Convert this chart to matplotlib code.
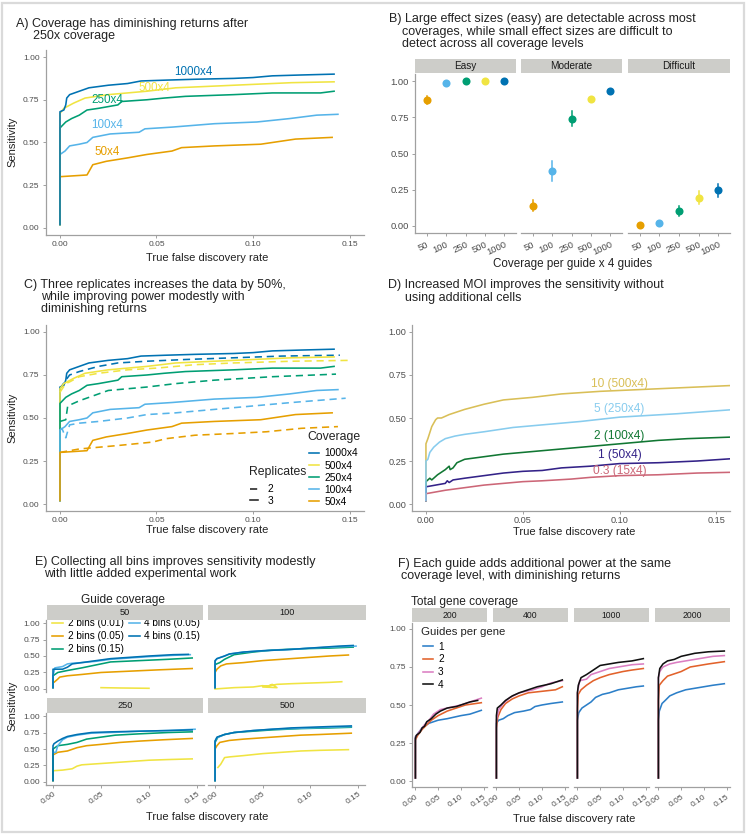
import matplotlib
matplotlib.use("Agg")
import matplotlib.pyplot as plt
from matplotlib.lines import Line2D
from matplotlib.patches import Rectangle

plt.rcParams['font.family'] = ['Liberation Sans', 'DejaVu Sans']

# ---------------- DATA ----------------
# Panel A / C (3 replicates, solid)
COV_LABELS = ['1000x4', '500x4', '250x4', '100x4', '50x4']
COV_COLORS = ['#0072B2', '#F0E442', '#009E73', '#56B4E9', '#E69F00']

A1000_x = [0, 0, 0.002, 0.003, 0.0035, 0.005, 0.01, 0.015, 0.025, 0.035, 0.042, 0.055, 0.07, 0.09, 0.10, 0.11, 0.125, 0.142]
A1000_y = [0.02, 0.68, 0.69, 0.72, 0.76, 0.78, 0.80, 0.82, 0.835, 0.845, 0.86, 0.865, 0.87, 0.875, 0.88, 0.89, 0.895, 0.90]
A500_x = [0, 0, 0.002, 0.007, 0.013, 0.025, 0.035, 0.045, 0.06, 0.08, 0.10, 0.12, 0.142]
A500_y = [0.02, 0.67, 0.70, 0.73, 0.76, 0.78, 0.79, 0.80, 0.82, 0.83, 0.84, 0.85, 0.855]
A250_x = [0, 0, 0.003, 0.006, 0.010, 0.014, 0.02, 0.03, 0.032, 0.045, 0.054, 0.065, 0.09, 0.11, 0.135, 0.142]
A250_y = [0.02, 0.585, 0.62, 0.64, 0.66, 0.69, 0.70, 0.72, 0.74, 0.75, 0.76, 0.77, 0.78, 0.79, 0.79, 0.80]
A100_x = [0, 0, 0.0026, 0.005, 0.010, 0.014, 0.017, 0.026, 0.041, 0.044, 0.058, 0.08, 0.102, 0.119, 0.133, 0.144]
A100_y = [0.02, 0.43, 0.45, 0.48, 0.49, 0.50, 0.53, 0.55, 0.56, 0.58, 0.59, 0.61, 0.62, 0.64, 0.66, 0.665]
A50_x = [0, 0, 0.014, 0.015, 0.016, 0.017, 0.024, 0.035, 0.045, 0.058, 0.063, 0.08, 0.104, 0.122, 0.141]
A50_y = [0.02, 0.30, 0.31, 0.33, 0.35, 0.37, 0.39, 0.41, 0.43, 0.45, 0.47, 0.48, 0.49, 0.52, 0.53]

# Panel C (2 replicates, dashed)
C1000_x = [0, 0.003, 0.005, 0.01, 0.02, 0.03, 0.045, 0.065, 0.09, 0.115, 0.145]
C1000_y = [0.67, 0.72, 0.75, 0.77, 0.80, 0.82, 0.83, 0.84, 0.85, 0.86, 0.865]
C500_x = [0, 0.003, 0.005, 0.01, 0.02, 0.035, 0.05, 0.07, 0.09, 0.12, 0.15]
C500_y = [0.65, 0.70, 0.71, 0.74, 0.76, 0.78, 0.79, 0.81, 0.82, 0.83, 0.835]
C250_x = [0, 0.003, 0.004, 0.01, 0.015, 0.025, 0.045, 0.06, 0.08, 0.11, 0.143]
C250_y = [0.48, 0.49, 0.57, 0.60, 0.62, 0.66, 0.68, 0.70, 0.72, 0.74, 0.755]
C100_x = [0, 0.001, 0.003, 0.005, 0.01, 0.02, 0.035, 0.045, 0.06, 0.08, 0.10, 0.12, 0.148]
C100_y = [0.43, 0.44, 0.385, 0.46, 0.47, 0.48, 0.50, 0.52, 0.53, 0.55, 0.57, 0.59, 0.615]
C50_x = [0, 0.01, 0.02, 0.03, 0.048, 0.055, 0.07, 0.09, 0.107, 0.125, 0.144]
C50_y = [0.30, 0.32, 0.33, 0.34, 0.36, 0.38, 0.40, 0.41, 0.42, 0.44, 0.45]
REP_LABELS = ['2', '3']

# Panel B
B_FACETS = ['Easy', 'Moderate', 'Difficult']
B_COV = ['50', '100', '250', '500', '1000']
B_COLORS = ['#E69F00', '#56B4E9', '#009E73', '#F0E442', '#0072B2']
B_easy = [0.87, 0.985, 1.0, 1.0, 1.0]
B_easy_lo = [0.84, 0.978, 0.998, 0.998, 0.998]
B_easy_hi = [0.90, 0.992, 1.0, 1.0, 1.0]
B_mod = [0.14, 0.38, 0.74, 0.875, 0.93]
B_mod_lo = [0.10, 0.31, 0.69, 0.86, 0.915]
B_mod_hi = [0.18, 0.45, 0.79, 0.89, 0.945]
B_diff = [0.01, 0.02, 0.103, 0.195, 0.245]
B_diff_lo = [0.0, 0.01, 0.07, 0.15, 0.20]
B_diff_hi = [0.02, 0.03, 0.135, 0.24, 0.29]

# Panel D
D_LABELS = ['10 (500x4)', '5 (250x4)', '2 (100x4)', '1 (50x4)', '0.3 (15x4)']
D_COLORS = ['#D9BF57', '#88CCEE', '#117733', '#332288', '#CC6677']
D10_x = [0, 0, 0.001, 0.003, 0.005, 0.006, 0.008, 0.012, 0.02, 0.03, 0.04, 0.055, 0.07, 0.09, 0.12, 0.16]
D10_y = [0.02, 0.35, 0.38, 0.45, 0.49, 0.50, 0.50, 0.52, 0.55, 0.58, 0.605, 0.62, 0.64, 0.655, 0.67, 0.69]
D5_x = [0, 0, 0.001, 0.002, 0.004, 0.007, 0.01, 0.015, 0.02, 0.03, 0.045, 0.06, 0.08, 0.10, 0.13, 0.16]
D5_y = [0.02, 0.25, 0.26, 0.30, 0.33, 0.36, 0.38, 0.395, 0.405, 0.42, 0.445, 0.46, 0.48, 0.505, 0.525, 0.55]
D2_x = [0, 0, 0.001, 0.002, 0.003, 0.004, 0.006, 0.01, 0.012, 0.0125, 0.014, 0.016, 0.018, 0.02, 0.03, 0.04, 0.05, 0.065, 0.08, 0.10, 0.12, 0.135, 0.16]
D2_y = [0.02, 0.13, 0.14, 0.15, 0.14, 0.15, 0.17, 0.20, 0.22, 0.20, 0.21, 0.24, 0.25, 0.26, 0.275, 0.29, 0.30, 0.315, 0.33, 0.35, 0.37, 0.38, 0.39]
D1_x = [0, 0, 0.005, 0.01, 0.011, 0.012, 0.014, 0.02, 0.03, 0.04, 0.05, 0.06, 0.07, 0.085, 0.10, 0.12, 0.14, 0.16]
D1_y = [0.02, 0.10, 0.11, 0.12, 0.135, 0.125, 0.14, 0.15, 0.165, 0.18, 0.19, 0.195, 0.21, 0.22, 0.235, 0.24, 0.25, 0.265]
D03_x = [0, 0, 0.005, 0.01, 0.02, 0.03, 0.04, 0.05, 0.06, 0.075, 0.085, 0.10, 0.12, 0.14, 0.16]
D03_y = [0.02, 0.06, 0.07, 0.08, 0.095, 0.11, 0.12, 0.13, 0.135, 0.145, 0.155, 0.165, 0.17, 0.18, 0.185]
D_LABEL_X = [0.10, 0.10, 0.10, 0.10, 0.10]
D_LABEL_Y = [0.695, 0.55, 0.398, 0.285, 0.19]

# Panel E
E_FACETS = ['50', '100', '250', '500']
E_LABELS = ['2 bins (0.01)', '2 bins (0.05)', '2 bins (0.15)', '4 bins (0.05)', '4 bins (0.15)']
E_COLORS = ['#F0E442', '#E69F00', '#009E73', '#56B4E9', '#0072B2']
E50 = {
    '2 bins (0.01)': ([0.05, 0.07, 0.10], [0.02, 0.015, 0.01]),
    '2 bins (0.05)': ([0, 0, 0.001, 0.005, 0.007, 0.015, 0.03, 0.05, 0.08, 0.11, 0.145], [0.02, 0.10, 0.10, 0.15, 0.18, 0.20, 0.22, 0.25, 0.27, 0.29, 0.31]),
    '2 bins (0.15)': ([0, 0, 0.002, 0.005, 0.015, 0.03, 0.04, 0.05, 0.06, 0.09, 0.12, 0.145], [0.02, 0.20, 0.22, 0.25, 0.28, 0.32, 0.35, 0.38, 0.41, 0.43, 0.45, 0.47]),
    '4 bins (0.05)': ([0, 0, 0.002, 0.01, 0.015, 0.02, 0.03, 0.045, 0.06, 0.08, 0.10, 0.125, 0.143], [0.02, 0.20, 0.32, 0.34, 0.38, 0.39, 0.40, 0.42, 0.45, 0.47, 0.49, 0.51, 0.52]),
    '4 bins (0.15)': ([0, 0, 0.01, 0.015, 0.02, 0.03, 0.045, 0.06, 0.08, 0.10, 0.125, 0.141], [0.02, 0.30, 0.30, 0.33, 0.38, 0.40, 0.43, 0.46, 0.48, 0.50, 0.52, 0.525]),
}
E100 = {
    '2 bins (0.01)': ([0, 0.02, 0.04, 0.05, 0.055, 0.06, 0.065, 0.05, 0.065, 0.08, 0.10, 0.12, 0.133], [0.0, 0.02, 0.03, 0.05, 0.04, 0.07, 0.02, 0.03, 0.07, 0.08, 0.09, 0.10, 0.11]),
    '2 bins (0.05)': ([0, 0, 0.002, 0.006, 0.012, 0.03, 0.05, 0.08, 0.10, 0.12, 0.14], [0.02, 0.25, 0.30, 0.35, 0.38, 0.40, 0.43, 0.46, 0.48, 0.50, 0.515]),
    '2 bins (0.15)': ([0, 0, 0.005, 0.01, 0.02, 0.04, 0.06, 0.09, 0.12, 0.145], [0.02, 0.37, 0.40, 0.45, 0.52, 0.56, 0.59, 0.61, 0.62, 0.635]),
    '4 bins (0.05)': ([0, 0, 0.002, 0.01, 0.015, 0.03, 0.05, 0.08, 0.10, 0.13, 0.148], [0.02, 0.42, 0.46, 0.50, 0.53, 0.56, 0.58, 0.60, 0.62, 0.64, 0.65]),
    '4 bins (0.15)': ([0, 0, 0.002, 0.01, 0.015, 0.03, 0.05, 0.08, 0.10, 0.13, 0.145], [0.02, 0.43, 0.46, 0.50, 0.53, 0.56, 0.58, 0.60, 0.62, 0.65, 0.66]),
}
E250 = {
    '2 bins (0.01)': ([0, 0.01, 0.02, 0.025, 0.03, 0.04, 0.06, 0.08, 0.10, 0.12, 0.145], [0.17, 0.18, 0.20, 0.24, 0.26, 0.27, 0.29, 0.31, 0.33, 0.34, 0.35]),
    '2 bins (0.05)': ([0, 0, 0.005, 0.015, 0.025, 0.035, 0.05, 0.07, 0.09, 0.115, 0.145], [0.02, 0.41, 0.45, 0.47, 0.52, 0.55, 0.57, 0.60, 0.62, 0.64, 0.66]),
    '2 bins (0.15)': ([0, 0, 0.005, 0.015, 0.025, 0.035, 0.05, 0.065, 0.09, 0.12, 0.145], [0.02, 0.50, 0.55, 0.57, 0.60, 0.65, 0.68, 0.71, 0.73, 0.75, 0.76]),
    '4 bins (0.05)': ([0, 0.003, 0.005, 0.01, 0.015, 0.025, 0.04, 0.06, 0.09, 0.12, 0.148], [0.45, 0.45, 0.55, 0.64, 0.68, 0.71, 0.74, 0.75, 0.77, 0.78, 0.80]),
    '4 bins (0.15)': ([0, 0, 0.001, 0.005, 0.01, 0.015, 0.025, 0.04, 0.06, 0.09, 0.12, 0.145], [0.02, 0.55, 0.58, 0.62, 0.66, 0.69, 0.72, 0.75, 0.76, 0.77, 0.78, 0.79]),
}
E500 = {
    '2 bins (0.01)': ([0.003, 0.006, 0.008, 0.01, 0.015, 0.03, 0.05, 0.07, 0.09, 0.11, 0.14], [0.22, 0.27, 0.32, 0.37, 0.38, 0.40, 0.43, 0.45, 0.47, 0.48, 0.49]),
    '2 bins (0.05)': ([0, 0, 0.002, 0.005, 0.015, 0.03, 0.05, 0.07, 0.09, 0.11, 0.143], [0.02, 0.50, 0.55, 0.60, 0.63, 0.65, 0.67, 0.69, 0.71, 0.72, 0.74]),
    '2 bins (0.15)': ([0, 0, 0.003, 0.01, 0.02, 0.04, 0.06, 0.09, 0.12, 0.143], [0.02, 0.60, 0.68, 0.72, 0.75, 0.77, 0.79, 0.81, 0.82, 0.83]),
    '4 bins (0.05)': ([0, 0, 0.002, 0.01, 0.02, 0.04, 0.06, 0.08, 0.10, 0.12, 0.143], [0.02, 0.62, 0.67, 0.72, 0.75, 0.78, 0.80, 0.81, 0.82, 0.83, 0.84]),
    '4 bins (0.15)': ([0, 0, 0.002, 0.01, 0.02, 0.04, 0.06, 0.08, 0.10, 0.12, 0.143], [0.02, 0.62, 0.68, 0.72, 0.75, 0.78, 0.80, 0.82, 0.83, 0.84, 0.85]),
}

# Panel F
F_FACETS = ['200', '400', '1000', '2000']
F_LABELS = ['1', '2', '3', '4']
F_COLORS = ['#2C7FC8', '#E2622B', '#DB7EC2', '#111111']
F200 = {
    '1': ([0, 0, 0.005, 0.015, 0.03, 0.04, 0.05, 0.07, 0.10, 0.12, 0.145], [0.02, 0.29, 0.31, 0.35, 0.38, 0.39, 0.40, 0.41, 0.43, 0.44, 0.465]),
    '2': ([0, 0, 0.005, 0.015, 0.025, 0.035, 0.05, 0.07, 0.09, 0.11, 0.145], [0.02, 0.27, 0.30, 0.34, 0.37, 0.40, 0.43, 0.46, 0.48, 0.50, 0.515]),
    '3': ([0, 0, 0.01, 0.02, 0.03, 0.04, 0.055, 0.07, 0.10, 0.12, 0.145], [0.02, 0.29, 0.33, 0.37, 0.40, 0.44, 0.47, 0.48, 0.50, 0.52, 0.545]),
    '4': ([0, 0, 0.002, 0.01, 0.015, 0.02, 0.025, 0.035, 0.045, 0.055, 0.07, 0.09, 0.10, 0.12, 0.137], [0.02, 0.28, 0.30, 0.32, 0.35, 0.36, 0.39, 0.41, 0.44, 0.46, 0.48, 0.49, 0.50, 0.52, 0.53]),
}
F400 = {
    '1': ([0, 0, 0.005, 0.015, 0.025, 0.04, 0.06, 0.075, 0.085, 0.10, 0.12, 0.145], [0.02, 0.38, 0.40, 0.41, 0.43, 0.45, 0.46, 0.47, 0.49, 0.50, 0.51, 0.52]),
    '2': ([0, 0, 0.003, 0.01, 0.02, 0.035, 0.05, 0.07, 0.10, 0.13, 0.145], [0.02, 0.35, 0.42, 0.47, 0.51, 0.54, 0.56, 0.58, 0.59, 0.60, 0.62]),
    '3': ([0, 0, 0.005, 0.015, 0.03, 0.05, 0.08, 0.10, 0.12, 0.145], [0.02, 0.40, 0.47, 0.51, 0.55, 0.58, 0.60, 0.62, 0.645, 0.66]),
    '4': ([0, 0, 0.002, 0.01, 0.02, 0.035, 0.05, 0.07, 0.09, 0.12, 0.145], [0.02, 0.43, 0.48, 0.50, 0.53, 0.56, 0.58, 0.60, 0.62, 0.64, 0.665]),
}
F1000 = {
    '1': ([0, 0, 0.003, 0.01, 0.02, 0.03, 0.04, 0.055, 0.07, 0.09, 0.11, 0.13, 0.145], [0.02, 0.40, 0.45, 0.48, 0.50, 0.52, 0.55, 0.57, 0.58, 0.60, 0.61, 0.62, 0.625]),
    '2': ([0, 0, 0.002, 0.008, 0.02, 0.035, 0.05, 0.07, 0.10, 0.12, 0.145], [0.02, 0.47, 0.57, 0.60, 0.63, 0.66, 0.68, 0.70, 0.72, 0.73, 0.74]),
    '3': ([0, 0, 0.005, 0.02, 0.03, 0.05, 0.07, 0.09, 0.12, 0.145], [0.02, 0.58, 0.66, 0.67, 0.70, 0.72, 0.74, 0.75, 0.765, 0.77]),
    '4': ([0, 0, 0.002, 0.008, 0.02, 0.035, 0.05, 0.07, 0.09, 0.12, 0.145], [0.02, 0.58, 0.63, 0.68, 0.70, 0.73, 0.76, 0.77, 0.78, 0.79, 0.805]),
}
F2000 = {
    '1': ([0, 0, 0.002, 0.008, 0.015, 0.025, 0.04, 0.06, 0.08, 0.10, 0.12, 0.145], [0.02, 0.40, 0.46, 0.51, 0.53, 0.56, 0.58, 0.60, 0.61, 0.62, 0.63, 0.64]),
    '2': ([0, 0, 0.002, 0.01, 0.02, 0.03, 0.05, 0.07, 0.09, 0.11, 0.145], [0.02, 0.53, 0.63, 0.66, 0.69, 0.70, 0.72, 0.75, 0.76, 0.77, 0.785]),
    '3': ([0, 0, 0.003, 0.01, 0.025, 0.04, 0.06, 0.08, 0.10, 0.12, 0.145], [0.02, 0.68, 0.72, 0.75, 0.77, 0.78, 0.79, 0.80, 0.81, 0.82, 0.825]),
    '4': ([0, 0, 0.003, 0.01, 0.02, 0.035, 0.05, 0.065, 0.08, 0.11, 0.145], [0.02, 0.68, 0.74, 0.77, 0.79, 0.80, 0.82, 0.83, 0.84, 0.85, 0.855]),
}

Y_TICKS = [0, 0.25, 0.5, 0.75, 1.0]
Y_TICKLABELS = ['0.00', '0.25', '0.50', '0.75', '1.00']
X_TICKS = [0, 0.05, 0.10, 0.15]
X_TICKLABELS = ['0.00', '0.05', '0.10', '0.15']

# ---------------- FIGURE ----------------
W, H = 746, 840
fig = plt.figure(figsize=(W / 100, H / 100), dpi=100)

AX_COL = '#a0a0a0'
TICK_COL = '#4d4d4d'
TXT_COL = '#222222'
STRIP = '#cdcdc9'
LW = 1.15
DASH = (0, (4.5, 3))


def pax(x0, y0, x1, y1):
    return fig.add_axes([x0 / W, 1 - y1 / H, (x1 - x0) / W, (y1 - y0) / H])


def ftext(x, y, s, **kw):
    kw.setdefault('color', TXT_COL)
    return fig.text(x / W, 1 - y / H, s, **kw)


def style(ax, left=True, bottom=True, lsize=6.0, xrot=0, xlim=(-0.0075, 0.1575), ylim=(-0.04, 1.04)):
    for s in ['top', 'right']:
        ax.spines[s].set_visible(False)
    for s in ['left', 'bottom']:
        ax.spines[s].set_color(AX_COL)
        ax.spines[s].set_linewidth(0.9)
    ax.spines['left'].set_visible(left)
    ax.spines['bottom'].set_visible(bottom)
    ax.set_facecolor('none')
    ax.set_ylim(*ylim)
    ax.set_yticks(Y_TICKS)
    ax.set_yticklabels(Y_TICKLABELS)
    if xlim is not None:
        ax.set_xlim(*xlim)
        ax.set_xticks(X_TICKS)
        if xrot:
            ax.set_xticklabels(X_TICKLABELS, rotation=xrot, ha='right', rotation_mode='anchor')
        else:
            ax.set_xticklabels(X_TICKLABELS)
    ax.tick_params(colors=AX_COL, labelcolor=TICK_COL, labelsize=lsize, length=2.5, width=0.7, pad=1.8)
    if not left:
        ax.tick_params(left=False, labelleft=False)
    if not bottom:
        ax.tick_params(bottom=False, labelbottom=False)


def strip(x0, y0, x1, y1, label, fs):
    sa = pax(x0, y0, x1, y1)
    sa.set_xticks([])
    sa.set_yticks([])
    sa.set_facecolor(STRIP)
    for s in sa.spines.values():
        s.set_visible(False)
    sa.text(0.5, 0.45, label, ha='center', va='center', fontsize=fs, color='#1a1a1a', transform=sa.transAxes)


# frame
fig.add_artist(Rectangle((1.5 / W, 1 - 832 / H), 742 / W, 829 / H, transform=fig.transFigure,
                         fill=False, edgecolor='#dadada', lw=1.6))

TFS = 9.0
LFS = 8.0

# ---------- Panel A ----------
axA = pax(45.5, 50.2, 364, 234.8)
style(axA)
A_series = [(A50_x, A50_y), (A100_x, A100_y), (A250_x, A250_y), (A500_x, A500_y), (A1000_x, A1000_y)]
A_cols = COV_COLORS[::-1]
for (xs, ys), c in zip(A_series, A_cols):
    axA.plot(xs, ys, color=c, lw=LW)
A_LABEL_POS = [(0.069, 0.91), (0.049, 0.82), (0.0245, 0.75), (0.0245, 0.60), (0.0245, 0.445)]
for lab, c, (lx, ly) in zip(COV_LABELS, COV_COLORS, A_LABEL_POS):
    axA.text(lx, ly, lab, color=c, fontsize=8.4, ha='center', va='center')
ftext(16, 27, 'A) Coverage has diminishing returns after', fontsize=TFS, va='baseline')
ftext(33, 39, '250x coverage', fontsize=TFS, va='baseline')
ftext(207, 258, 'True false discovery rate', fontsize=LFS, ha='center', va='center')
ftext(12, 142, 'Sensitivity', fontsize=LFS, ha='center', va='center', rotation=90)

# ---------- Panel B ----------
ftext(389, 22, 'B) Large effect sizes (easy) are detectable across most', fontsize=TFS, va='baseline')
ftext(402, 34.5, 'coverages, while small effect sizes are difficult to', fontsize=TFS, va='baseline')
ftext(402, 47, 'detect across all coverage levels', fontsize=TFS, va='baseline')
B_vals = [(B_easy, B_easy_lo, B_easy_hi), (B_mod, B_mod_lo, B_mod_hi), (B_diff, B_diff_lo, B_diff_hi)]
B_x0 = [415, 521, 628]
B_x1 = [516, 622, 730]
for i, (fac, (v, lo, hi)) in enumerate(zip(B_FACETS, B_vals)):
    ax = pax(B_x0[i], 73.8, B_x1[i], 233.2)
    style(ax, left=(i == 0), lsize=6.8, xlim=None, ylim=(-0.05, 1.05))
    pos = list(range(1, 6))
    for p, val, l, h, c in zip(pos, v, lo, hi, B_COLORS):
        ax.plot([p, p], [l, h], color=c, lw=1.1)
        ax.plot([p], [val], 'o', color=c, ms=5.8, mec='none')
    ax.set_xlim(0.4, 5.6)
    ax.set_xticks(pos)
    ax.set_xticklabels(B_COV, rotation=25, ha='right', rotation_mode='anchor')
    ax.tick_params(axis='x', labelsize=6.8, pad=2.5)
    strip(B_x0[i], 58.5, B_x1[i], 73, fac, 7.2)
ftext(573, 264, 'Coverage per guide x 4 guides', fontsize=8.4, ha='center', va='center')

# ---------- Panel C ----------
ftext(24, 288, 'C) Three replicates increases the data by 50%,', fontsize=TFS, va='baseline')
ftext(41, 300, 'while improving power modestly with', fontsize=TFS, va='baseline')
ftext(41, 312, 'diminishing returns', fontsize=TFS, va='baseline')
axC = pax(45.5, 325.1, 364, 510.9)
style(axC)
C_dashed = [(C1000_x, C1000_y), (C500_x, C500_y), (C250_x, C250_y), (C100_x, C100_y), (C50_x, C50_y)]
C_solid = [(A1000_x, A1000_y), (A500_x, A500_y), (A250_x, A250_y), (A100_x, A100_y), (A50_x, A50_y)]
for (xs, ys), (dx, dy), c in zip(C_solid, C_dashed, COV_COLORS):
    axC.plot(dx, dy, color=c, lw=LW, ls=DASH)
    axC.plot(xs, ys, color=c, lw=LW)
cov_handles = [Line2D([], [], color=c, lw=LW) for c in COV_COLORS]
leg1 = axC.legend(cov_handles, COV_LABELS, loc='upper left',
                  bbox_to_anchor=(309 / W, 1 - 448.5 / H), bbox_transform=fig.transFigure,
                  frameon=False, fontsize=7.4, handlelength=1.0,
                  handletextpad=0.5, labelspacing=0.2, borderpad=0, borderaxespad=0)
axC.add_artist(leg1)
rep_handles = [Line2D([], [], color='#222222', lw=LW, ls=DASH), Line2D([], [], color='#222222', lw=LW)]
leg2 = axC.legend(rep_handles, REP_LABELS, loc='upper left',
                  bbox_to_anchor=(250 / W, 1 - 484.5 / H), bbox_transform=fig.transFigure,
                  frameon=False, fontsize=7.4, handlelength=0.8,
                  handletextpad=0.9, labelspacing=0.1, borderpad=0, borderaxespad=0)
ftext(307, 437, 'Coverage', fontsize=8.8, ha='left', va='center')
ftext(249, 472, 'Replicates', fontsize=8.8, ha='left', va='center')
ftext(207, 530, 'True false discovery rate', fontsize=LFS, ha='center', va='center')
ftext(12, 418, 'Sensitivity', fontsize=LFS, ha='center', va='center', rotation=90)

# ---------- Panel D ----------
ftext(388, 288, 'D) Increased MOI improves the sensitivity without', fontsize=TFS, va='baseline')
ftext(405, 300.5, 'using additional cells', fontsize=TFS, va='baseline')
axD = pax(412, 325.1, 730, 510.9)
style(axD, lsize=6.6, xlim=(-0.0072, 0.157))
axD.tick_params(axis='x', pad=1.5)
D_series = [(D10_x, D10_y), (D5_x, D5_y), (D2_x, D2_y), (D1_x, D1_y), (D03_x, D03_y)]
for idx in [0, 2, 3, 4, 1]:
    xs, ys = D_series[idx]
    axD.plot(xs, ys, color=D_COLORS[idx], lw=LW)
for lab, c, lx, ly in zip(D_LABELS, D_COLORS, D_LABEL_X, D_LABEL_Y):
    axD.text(lx, ly, lab, color=c, fontsize=8.6, ha='center', va='center')
ftext(574, 532, 'True false discovery rate', fontsize=LFS, ha='center', va='center')

# ---------- Panel E ----------
ftext(35, 565, 'E) Collecting all bins improves sensitivity modestly', fontsize=TFS, va='baseline')
ftext(44, 577, 'with little added experimental work', fontsize=TFS, va='baseline')
ftext(123, 603, 'Guide coverage', fontsize=8.6, ha='center', va='baseline')
E_data = [E50, E100, E250, E500]
E_cols_px = [(45.8, 204.2), (207.9, 365.1)]
E_rows_px = [(620.4, 691.6), (713.4, 784.6)]
E_strip_rows = [(605, 619.5), (698, 712.5)]
E_strip_cols = [(47, 203), (208, 366)]
axE0 = None
for k, (fac, d) in enumerate(zip(E_FACETS, E_data)):
    r, cidx = divmod(k, 2)
    x0, x1 = E_cols_px[cidx]
    y0, y1 = E_rows_px[r]
    ax = pax(x0, y0, x1, y1)
    style(ax, left=(cidx == 0), bottom=(r == 1), lsize=6.0, xrot=35)
    for lab, col in zip(E_LABELS, E_COLORS):
        xs, ys = d[lab]
        ax.plot(xs, ys, color=col, lw=LW)
    strip(E_strip_cols[cidx][0], E_strip_rows[r][0], E_strip_cols[cidx][1], E_strip_rows[r][1], fac, 6.6)
    if k == 0:
        axE0 = ax
e_handles = [Line2D([], [], color=c, lw=LW) for c in E_COLORS]
axE0.legend(e_handles, E_LABELS, ncol=2, loc='upper left',
            bbox_to_anchor=(52 / W, 1 - 618 / H), bbox_transform=fig.transFigure,
            frameon=False, fontsize=7.2, handlelength=1.1, handletextpad=0.45,
            labelspacing=0.3, columnspacing=0.55, borderpad=0, borderaxespad=0)
ftext(207, 817, 'True false discovery rate', fontsize=LFS, ha='center', va='center')
ftext(12, 706, 'Sensitivity', fontsize=LFS, ha='center', va='center', rotation=90)

# ---------- Panel F ----------
ftext(398, 567, 'F) Each guide adds additional power at the same', fontsize=TFS, va='baseline')
ftext(401, 579, 'coverage level, with diminishing returns', fontsize=TFS, va='baseline')
ftext(411, 605, 'Total gene coverage', fontsize=8.6, ha='left', va='baseline')
F_data = [F200, F400, F1000, F2000]
F_x0 = [412, 493, 574, 655]
F_x1 = [487, 568, 649, 730]
axF0 = None
for k, (fac, d) in enumerate(zip(F_FACETS, F_data)):
    ax = pax(F_x0[k], 622.9, F_x1[k], 787.1)
    style(ax, left=(k == 0), lsize=6.0, xrot=35)
    for lab, col in zip(F_LABELS, F_COLORS):
        xs, ys = d[lab]
        ax.plot(xs, ys, color=col, lw=LW)
    strip(F_x0[k], 608, F_x1[k], 621.5, fac, 6.2)
    if k == 0:
        axF0 = ax
f_handles = [Line2D([], [], color=c, lw=LW) for c in F_COLORS]
axF0.legend(f_handles, F_LABELS, loc='upper left',
            bbox_to_anchor=(423 / W, 1 - 641.5 / H), bbox_transform=fig.transFigure,
            frameon=False, fontsize=7.2, handlelength=1.0,
            handletextpad=0.5, labelspacing=0.28, borderpad=0, borderaxespad=0)
ftext(421, 632, 'Guides per gene', fontsize=8.2, ha='left', va='center')
ftext(574, 819, 'True false discovery rate', fontsize=LFS, ha='center', va='center')

fig.savefig('out.png', dpi=100)
